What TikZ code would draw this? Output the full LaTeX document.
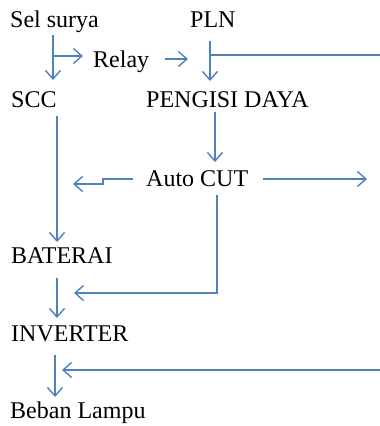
\documentclass[tikz,border=0pt]{standalone}
\usepackage{fontspec}
\setmainfont{Liberation Serif}
\newfontfamily\lserif{Liberation Serif}
\usetikzlibrary{arrows.meta}
\definecolor{lineblue}{RGB}{79,129,189}
\begin{document}
\begin{tikzpicture}[x=1pt,y=-1pt,
  lbl/.style={anchor=base west,inner sep=0pt,font=\lserif\fontsize{24}{28}\selectfont,text=black},
  ln/.style={draw=lineblue,line width=1.4pt},
  arr/.style={ln,-{Straight Barb[length=8.5pt,width=15pt,line width=1.4pt]}}]
\useasboundingbox (0,0) rectangle (380,426);
% labels
\node[lbl] (sel) at (10,27) {Sel surya};
\node[lbl] (pln) at (190,27) {PLN};
\node[lbl] (relay) at (93,67) {Relay};
\node[lbl] (scc) at (11,107) {SCC};
\node[lbl] (peng) at (146,107) {PENGISI DAYA};
\node[lbl] (auto) at (146,186) {Auto CUT};
\node[lbl] (bat) at (11,263) {BATERAI};
\node[lbl] (inv) at (11,341) {INVERTER};
\node[lbl] (beban) at (10,418) {Beban Lampu};
% connector end points
\coordinate (selout) at (53,35);
\coordinate (sccin) at (53,80);
\coordinate (selbr) at (53,56);
\coordinate (relayin) at (83,56);
\coordinate (relayout) at (165,59);
\coordinate (pengin1) at (188,59);
\coordinate (plnout) at (210,41);
\coordinate (pengin) at (210,81);
\coordinate (plnbr) at (210,55);
\coordinate (rightA) at (380,55);
\coordinate (pengout) at (215,112);
\coordinate (autoin) at (215,162);
\coordinate (autoL) at (133,179);
\coordinate (stepA) at (103,179);
\coordinate (stepB) at (103,184);
\coordinate (leftTip) at (73,184);
\coordinate (autoR) at (263,179);
\coordinate (rightTip) at (367,179);
\coordinate (autoD) at (217,195);
\coordinate (cornerD) at (217,293);
\coordinate (batin2) at (74,293);
\coordinate (sccout) at (57,116);
\coordinate (batin) at (57,242);
\coordinate (batout) at (57,278);
\coordinate (invin) at (57,318);
\coordinate (invout) at (55,355);
\coordinate (bebanin) at (55,397);
\coordinate (rightB) at (380,370);
\coordinate (invR) at (62,370);
% connectors
\draw[arr] (selout) -- (sccin);
\draw[arr] (selbr) -- (relayin);
\draw[arr] (relayout) -- (pengin1);
\draw[arr] (plnout) -- (pengin);
\draw[ln] (plnbr) -- (rightA);
\draw[arr] (pengout) -- (autoin);
\draw[arr] (autoL) -- (stepA) -- (stepB) -- (leftTip);
\draw[arr] (autoR) -- (rightTip);
\draw[arr] (autoD) -- (cornerD) -- (batin2);
\draw[arr] (sccout) -- (batin);
\draw[arr] (batout) -- (invin);
\draw[arr] (invout) -- (bebanin);
\draw[arr] (rightB) -- (invR);
\end{tikzpicture}
\end{document}
